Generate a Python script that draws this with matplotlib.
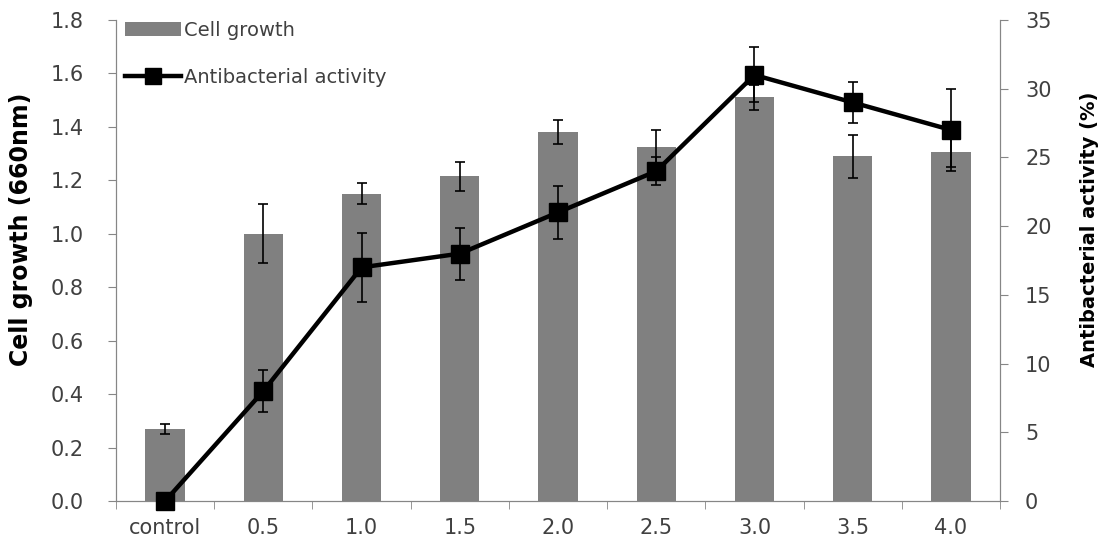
import matplotlib
matplotlib.use('Agg')
import matplotlib.pyplot as plt
from matplotlib.lines import Line2D
import numpy as np

plt.rcParams['font.family'] = 'DejaVu Sans'

# concentration groups
groups = ['control', '0.5', '1.0', '1.5', '2.0', '2.5', '3.0', '3.5', '4.0']

# OD at 660 nm (left axis)
growth = [0.27, 1.00, 1.15, 1.215, 1.38, 1.325, 1.51, 1.29, 1.305]
growth_err = [0.02, 0.11, 0.04, 0.055, 0.045, 0.065, 0.045, 0.08, 0.055]

# antibacterial activity in % (right axis)
activity = [0, 8, 17, 18, 21, 24, 31, 29, 27]
activity_err = [0, 1.5, 2.5, 1.9, 1.9, 1.0, 2.0, 1.5, 3.0]

axis_grey = '#868686'
label_grey = '#404040'

fig = plt.figure(figsize=(11.05, 5.49), dpi=100)
ax1 = fig.add_axes([0.105, 0.0874, 0.8, 0.8762])
ax2 = ax1.twinx()

x = np.arange(len(groups))
bars = ax1.bar(x, growth, width=0.4, color='#808080', zorder=2)
ax1.errorbar(x, growth, yerr=growth_err, fmt='none', ecolor='black',
             elinewidth=1.2, capsize=3.6, capthick=1.2, zorder=3)

eb = ax2.errorbar(x, activity, yerr=activity_err, color='black', lw=3.2,
                  marker='s', markersize=13, ecolor='black', elinewidth=1.2,
                  capsize=3.6, capthick=1.2, zorder=4)
eb.lines[0].set_clip_on(False)

ax1.set_xlim(-0.5, len(groups) - 0.5)
ax1.set_ylim(0, 1.8)
yt = np.arange(0, 1.81, 0.2)
ax1.set_yticks(yt)
ax1.set_yticklabels(['%.1f' % v for v in yt])
ax2.set_ylim(0, 35)
ax2.set_yticks(np.arange(0, 36, 5))

ax1.set_xticks(x)
ax1.set_xticklabels(groups)
ax1.set_xticks(np.arange(-0.5, len(groups), 1), minor=True)
ax1.tick_params(axis='x', which='major', length=0, pad=12)
ax1.tick_params(axis='x', which='minor', length=6, direction='out', color=axis_grey)
ax1.tick_params(axis='y', length=6, direction='out', color=axis_grey, pad=17)
ax2.tick_params(axis='y', length=6, direction='out', color=axis_grey, pad=12)
for ax in (ax1, ax2):
    ax.tick_params(labelsize=15, labelcolor=label_grey)
    ax.spines['top'].set_visible(False)
    for s in ('left', 'right', 'bottom'):
        ax.spines[s].set_color(axis_grey)

ax1.set_ylabel('Cell growth (660nm)', fontsize=17, fontweight='bold')
ax2.set_ylabel('Antibacterial activity (%)', fontsize=14, fontweight='bold')
ax1.yaxis.set_label_coords(-0.094, 0.565)
ax2.yaxis.set_label_coords(1.09, 0.565)

line_handle = Line2D([], [], color='black', lw=3.2, marker='s', markersize=11)
ax1.legend([bars, line_handle], ['Cell growth', 'Antibacterial activity'],
           loc='upper left', bbox_to_anchor=(-0.01, 1.035), frameon=False,
           fontsize=14, handlelength=2.9, handletextpad=0.15, labelspacing=1.45,
           labelcolor=label_grey)

fig.savefig('out.png', dpi=100)
